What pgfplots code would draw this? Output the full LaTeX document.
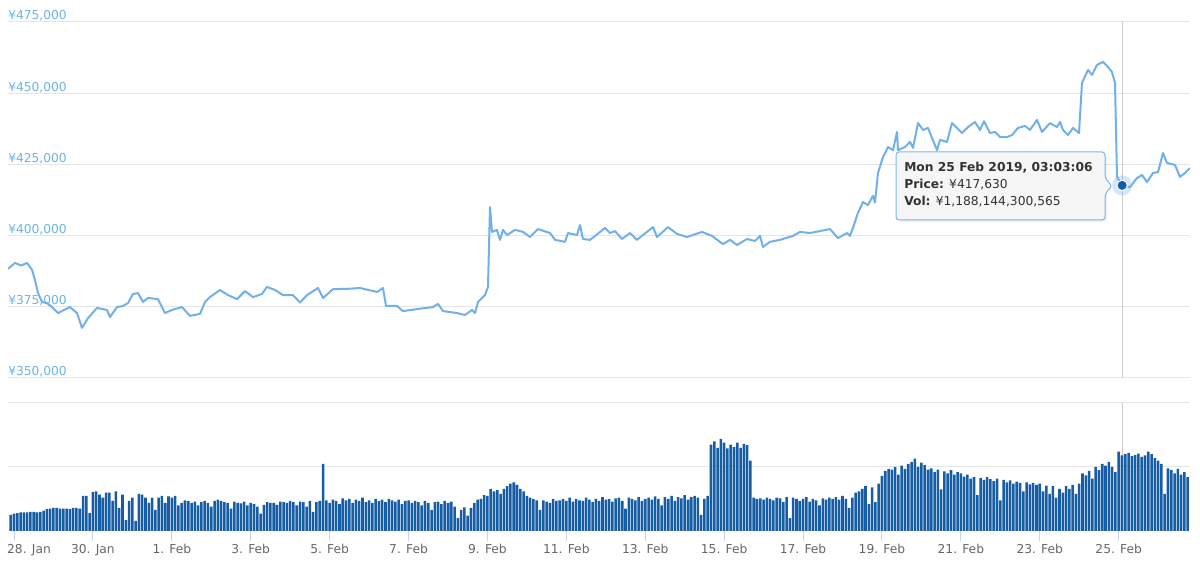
\documentclass[border=0pt]{standalone}
\usepackage{fontspec}
\setmainfont{DejaVu Sans}
\usepackage{pgfplots}
\pgfplotsset{compat=1.18}

\definecolor{priceline}{RGB}{114,176,234}
\definecolor{volbar}{RGB}{22,93,166}
\definecolor{gridc}{RGB}{230,230,230}
\definecolor{ylab}{RGB}{108,180,228}
\definecolor{xlab}{RGB}{102,102,102}
\definecolor{tickc}{RGB}{204,214,235}
\definecolor{tipborder}{RGB}{124,181,236}
\definecolor{cross}{RGB}{204,204,204}
\definecolor{tiptext}{RGB}{51,51,51}

\begin{document}
\begin{tikzpicture}
\useasboundingbox (0,0) rectangle (900pt,425.25pt);
\pgfplotsset{every axis/.append style={font=\fontsize{9.2}{11}\selectfont}}

% price panel, x in days since 28 Jan
\begin{axis}[
  at={(6pt,141.75pt)}, anchor=south west,
  scale only axis, width=886.5pt, height=267pt,
  xmin=-0.152, xmax=29.81, ymin=350000, ymax=475000,
  axis line style={draw=none},
  xtick=\empty, scaled y ticks=false,
  ytick={350000,375000,400000,425000,450000,475000},
  yticklabels={{¥350,000},{¥375,000},{¥400,000},{¥425,000},{¥450,000},{¥475,000}},
  ytick style={draw=none},
  yticklabel style={anchor=base west, inner sep=0pt, yshift=1.5pt, text=ylab},
  ymajorgrids, grid style={gridc, line width=0.75pt},
]
\draw[cross, line width=0.75pt] (axis cs:28.09,350000) -- (axis cs:28.09,475000);
\addplot[priceline, line width=1.5pt, line join=round] coordinates {
(-0.152,388300) (0.025,390400) (0.18,389500) (0.33,390400) (0.456,388000) (0.532,384400)
(0.608,379800) (0.71,376700) (0.837,376300) (0.989,374600) (1.115,372800) (1.27,373900)
(1.42,374900) (1.597,372800) (1.724,367600) (1.876,371000) (2.104,374600) (2.357,373900)
(2.433,371400) (2.611,374900) (2.763,375300) (2.89,376300) (3.016,379500) (3.143,379800)
(3.27,376700) (3.397,378100) (3.65,377700) (3.828,372800) (4.005,373900) (4.259,374900)
(4.461,371800) (4.715,372500) (4.842,376700) (4.968,378400) (5.222,380900) (5.425,379100)
(5.653,377700) (5.856,380500) (6.058,378400) (6.286,379500) (6.413,382000) (6.616,380900)
(6.819,379100) (7.072,379100) (7.25,376500) (7.427,379100) (7.706,381600) (7.833,378100)
(8.086,381200) (8.45,381300) (8.771,381600) (9.202,380200) (9.354,381600) (9.43,375300)
(9.709,375300) (9.861,373500) (10.215,374200) (10.621,374900) (10.748,376000) (10.875,373500)
(11.23,372800) (11.432,372100) (11.61,373900) (11.686,372800) (11.762,376700) (11.939,379100)
(12.015,382000) (12.066,410000) (12.117,401300) (12.243,402000) (12.319,398500) (12.395,402000)
(12.497,400200) (12.7,402000) (12.903,401300) (13.08,399500) (13.283,402300) (13.587,400900)
(13.714,398500) (13.967,397800) (14.043,400900) (14.271,400200) (14.347,403700) (14.423,398800)
(14.601,398500) (14.778,400400) (14.981,402700) (15.108,400900) (15.234,401600) (15.412,398800)
(15.615,400900) (15.792,398500) (15.944,400200) (16.198,403000) (16.299,399500) (16.578,403000)
(16.806,400600) (17.06,399500) (17.44,401300) (17.693,399900) (17.972,397000) (18.15,398500)
(18.327,396700) (18.581,398800) (18.783,398100) (18.91,399900) (18.986,396000) (19.163,397800)
(19.417,398500) (19.747,399900) (19.924,401300) (20.177,400900) (20.431,401600) (20.684,402300)
(20.887,399100) (21.115,400900) (21.191,399900) (21.267,402700) (21.394,408000) (21.521,411800)
(21.648,410700) (21.774,414000) (21.825,411600) (21.901,422000) (22.028,427600) (22.155,431100)
(22.282,430000) (22.383,436400) (22.408,430000) (22.586,431100) (22.712,432900) (22.788,430800)
(22.915,439500) (23.042,437100) (23.169,437800) (23.27,434300) (23.397,430000) (23.473,433600)
(23.65,432900) (23.777,439500) (23.904,437800) (24.03,436000) (24.183,438100) (24.36,439900)
(24.487,437100) (24.588,440200) (24.74,436000) (24.867,436400) (24.994,434600) (25.171,434600)
(25.298,435300) (25.45,437800) (25.627,438500) (25.754,437100) (25.932,440600) (26.058,436400)
(26.261,439500) (26.439,438100) (26.515,439900) (26.591,437100) (26.717,435300) (26.844,437800)
(26.996,436000) (27.072,453600) (27.224,458200) (27.326,456400) (27.452,459900) (27.605,461000)
(27.731,459200) (27.832,457400) (27.909,453600) (27.959,420600) (28.09,417630) (28.289,417000)
(28.466,420200) (28.593,421300) (28.719,418800) (28.872,422000) (28.999,422300) (29.125,429000)
(29.227,425500) (29.43,424800) (29.556,420600) (29.683,422000) (29.81,423700)
};
\addplot[only marks, mark=*, mark size=7.5pt, draw=none, draw opacity=0,
  mark options={draw=none, draw opacity=0, fill=priceline, fill opacity=0.3}]
  coordinates {(28.09,417630)};
\addplot[only marks, mark=*, mark size=3.9pt, mark options={draw=white, line width=0.75pt, fill=volbar}]
  coordinates {(28.09,417630)};
\end{axis}

% volume panel, x in hours since 28 Jan 00:00, y in units of the first gridline
\begin{axis}[
  at={(6pt,27pt)}, anchor=south west,
  scale only axis, width=886.5pt, height=96pt,
  xmin=-3.65, xmax=715.4, ymin=0, ymax=2,
  axis line style={draw=none},
  ytick={1,2}, yticklabels={}, ytick style={draw=none},
  ymajorgrids, grid style={gridc, line width=0.75pt},
  xtick={48,96,...,672},
  xticklabels={30. Jan,1. Feb,3. Feb,5. Feb,7. Feb,9. Feb,11. Feb,13. Feb,15. Feb,17. Feb,19. Feb,21. Feb,23. Feb,25. Feb},
  extra x ticks={0}, extra x tick labels={28. Jan},
  extra x tick style={grid=none, xticklabel style={xshift=11.25pt}},
  xtick pos=lower, tick align=outside, major tick length=7.5pt,
  xtick style={draw=tickc, line width=0.75pt},
  xticklabel style={text=xlab, yshift=1pt},
]
\draw[cross, line width=0.75pt] (axis cs:674.2,0) -- (axis cs:674.2,2);
\addplot[ybar, bar width=1.55, fill=volbar, draw=none] coordinates {
(-2,0.25) (0,0.27) (2,0.28) (4,0.29) (6,0.29) (8,0.29) (10,0.30) (12,0.30) (14,0.29) (16,0.30)
(18,0.32) (20,0.34) (22,0.35) (24,0.36) (26,0.36) (28,0.35) (30,0.35) (32,0.35) (34,0.34) (36,0.36)
(38,0.36) (40,0.35) (42,0.55) (44,0.55) (46,0.28) (48,0.61) (50,0.62) (52,0.57) (54,0.52) (56,0.60)
(58,0.60) (60,0.47) (62,0.62) (64,0.36) (66,0.57) (68,0.17) (70,0.47) (72,0.52) (74,0.16) (76,0.58)
(78,0.57) (80,0.52) (82,0.44) (84,0.52) (86,0.33) (88,0.52) (90,0.55) (92,0.44) (94,0.54) (96,0.52)
(98,0.55) (100,0.40) (102,0.44) (104,0.48) (106,0.47) (108,0.44) (110,0.46) (112,0.40) (114,0.45) (116,0.47)
(118,0.44) (120,0.38) (122,0.47) (124,0.49) (126,0.47) (128,0.45) (130,0.44) (132,0.35) (134,0.46) (136,0.44)
(138,0.43) (140,0.46) (142,0.40) (144,0.44) (146,0.42) (148,0.38) (150,0.27) (152,0.41) (154,0.45) (156,0.44)
(158,0.44) (160,0.41) (162,0.46) (164,0.45) (166,0.44) (168,0.47) (170,0.45) (172,0.40) (174,0.46) (176,0.45)
(178,0.38) (180,0.47) (182,0.30) (184,0.45) (186,0.47) (188,1.05) (190,0.48) (192,0.44) (194,0.49) (196,0.47)
(198,0.42) (200,0.51) (202,0.48) (204,0.50) (206,0.44) (208,0.49) (210,0.47) (212,0.52) (214,0.45) (216,0.48)
(218,0.44) (220,0.50) (222,0.47) (224,0.49) (226,0.45) (228,0.50) (230,0.48) (232,0.46) (234,0.49) (236,0.42)
(238,0.47) (240,0.48) (242,0.44) (244,0.47) (246,0.45) (248,0.40) (250,0.47) (252,0.44) (254,0.33) (256,0.45)
(258,0.46) (260,0.42) (262,0.47) (264,0.44) (266,0.46) (268,0.38) (270,0.20) (272,0.33) (274,0.37) (276,0.24)
(278,0.36) (280,0.44) (282,0.49) (284,0.50) (286,0.56) (288,0.55) (290,0.66) (292,0.62) (294,0.64) (296,0.58)
(298,0.66) (300,0.70) (302,0.74) (304,0.76) (306,0.72) (308,0.66) (310,0.62) (312,0.55) (314,0.52) (316,0.50)
(318,0.48) (320,0.33) (322,0.48) (324,0.46) (326,0.44) (328,0.50) (330,0.47) (332,0.48) (334,0.50) (336,0.47)
(338,0.52) (340,0.46) (342,0.50) (344,0.48) (346,0.47) (348,0.52) (350,0.49) (352,0.45) (354,0.50) (356,0.47)
(358,0.53) (360,0.49) (362,0.50) (364,0.46) (366,0.51) (368,0.52) (370,0.47) (372,0.35) (374,0.52) (376,0.50)
(378,0.48) (380,0.53) (382,0.47) (384,0.50) (386,0.52) (388,0.49) (390,0.54) (392,0.50) (394,0.40) (396,0.53)
(398,0.50) (400,0.55) (402,0.47) (404,0.53) (406,0.51) (408,0.56) (410,0.49) (412,0.53) (414,0.55) (416,0.52)
(418,0.25) (420,0.50) (422,0.55) (424,1.35) (426,1.40) (428,1.30) (430,1.44) (432,1.38) (434,1.29) (436,1.35)
(438,1.31) (440,1.38) (442,1.30) (444,1.36) (446,1.34) (448,1.10) (450,0.52) (452,0.50) (454,0.51) (456,0.49)
(458,0.52) (460,0.50) (462,0.48) (464,0.52) (466,0.51) (468,0.45) (470,0.53) (472,0.20) (474,0.52) (476,0.50)
(478,0.47) (480,0.50) (482,0.53) (484,0.46) (486,0.50) (488,0.48) (490,0.40) (492,0.51) (494,0.49) (496,0.52)
(498,0.50) (500,0.53) (502,0.49) (504,0.55) (506,0.50) (508,0.36) (510,0.52) (512,0.60) (514,0.62) (516,0.66)
(518,0.70) (520,0.42) (522,0.68) (524,0.45) (526,0.74) (528,0.86) (530,0.94) (532,0.97) (534,0.96) (536,1.00)
(538,0.88) (540,1.02) (542,0.97) (544,1.05) (546,1.08) (548,1.13) (550,1.00) (552,1.07) (554,1.03) (556,0.96)
(558,0.98) (560,0.92) (562,0.96) (564,0.65) (566,0.93) (568,0.90) (570,0.95) (572,0.88) (574,0.92) (576,0.90)
(578,0.85) (580,0.88) (582,0.82) (584,0.84) (586,0.56) (588,0.83) (590,0.80) (592,0.84) (594,0.81) (596,0.78)
(598,0.82) (600,0.48) (602,0.80) (604,0.76) (606,0.79) (608,0.74) (610,0.77) (612,0.75) (614,0.62) (616,0.76)
(618,0.73) (620,0.75) (622,0.72) (624,0.74) (626,0.62) (628,0.71) (630,0.58) (632,0.70) (634,0.52) (636,0.66)
(638,0.60) (640,0.70) (642,0.66) (644,0.72) (646,0.58) (648,0.74) (650,0.90) (652,0.87) (654,0.94) (656,0.82)
(658,1.00) (660,0.95) (662,1.05) (664,1.02) (666,1.08) (668,1.00) (670,0.92) (672,1.24) (674,1.18) (676,1.20)
(678,1.22) (680,1.17) (682,1.19) (684,1.21) (686,1.16) (688,1.18) (690,1.24) (692,1.20) (694,1.14) (696,1.10)
(698,1.05) (700,0.58) (702,0.98) (704,0.95) (706,0.90) (708,0.97) (710,0.88) (712,0.92) (714,0.84)
};
\end{axis}

% tooltip, in pixel coordinates measured from the top-left corner
\begin{scope}[x=0.75pt, y=-0.75pt, shift={(0pt,425.25pt)}]
\fill[black, opacity=0.06, rounded corners=2.25pt] (898,154) -- (1107,154) -- (1107,222) -- (898,222) -- cycle;
\draw[tipborder, line width=0.75pt, fill={rgb,255:red,247;green,247;blue,247}, fill opacity=0.92, rounded corners=2.25pt]
  (896,152) -- (1105,152) -- (1105,178) -- (1112,186) -- (1105,194) -- (1105,220) -- (896,220) -- cycle;
\begin{scope}[font=\fontsize{9.2}{11}\selectfont, every node/.style={anchor=base west, inner sep=0pt, text=tiptext}]
\node at (904,172) {\bfseries Mon 25 Feb 2019, 03:03:06};
\node at (904,189) {\textbf{Price:} ¥417,630};
\node at (904,206) {\textbf{Vol:} ¥1,188,144,300,565};
\end{scope}
\end{scope}
\end{tikzpicture}
\end{document}
